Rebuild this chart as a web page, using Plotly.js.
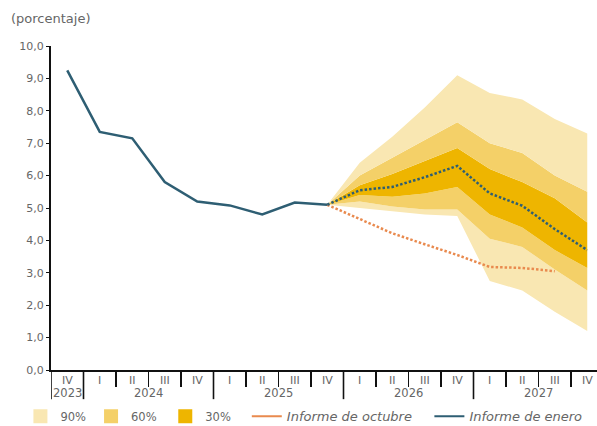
<!DOCTYPE html>
<html><head><meta charset="utf-8">
<script src="https://cdn.plot.ly/plotly-3.0.1.min.js"></script>
<style>body{margin:0;background:#fff}#chart{width:597px;height:426px}</style>
</head><body><div id="chart"></div>
<script>
// Categories (quarters and years)
const years    = ['2023','2024','2024','2024','2024','2025','2025','2025','2025','2026','2026','2026','2026','2027','2027','2027','2027'];
const quarters = ['IV','I','II','III','IV','I','II','III','IV','I','II','III','IV','I','II','III','IV'];
// Observed inflation (2023 IV .. 2025 IV)
const historical = [9.25, 7.35, 7.15, 5.8, 5.2, 5.08, 4.8, 5.17, 5.1];
// Forecasts from 2025 IV .. 2027 IV
const forecastStart = 8;
const enero   = [5.1, 5.55, 5.65, 5.95, 6.3, 5.45, 5.07, 4.35, 3.7];
const octubre = [5.1, 4.65, 4.22, 3.88, 3.55, 3.18, 3.15, 3.05];
const upper90 = [5.1, 6.4, 7.2, 8.1, 9.1, 8.55, 8.35, 7.75, 7.3];
const upper60 = [5.1, 6.0, 6.55, 7.1, 7.65, 7.0, 6.7, 6.0, 5.5];
const upper30 = [5.1, 5.7, 6.05, 6.45, 6.85, 6.2, 5.8, 5.3, 4.55];
const lower30 = [5.1, 5.4, 5.35, 5.45, 5.65, 4.8, 4.4, 3.7, 3.15];
const lower60 = [5.1, 5.2, 5.05, 4.95, 4.95, 4.05, 3.8, 3.1, 2.45];
const lower90 = [5.1, 5.0, 4.9, 4.8, 4.75, 2.75, 2.45, 1.8, 1.2];
const bandNames = ['90%', '60%', '30%'];
const lineNames = ['Informe de octubre', 'Informe de enero'];

const C_LIGHT = '#F9E7B2', C_MED = '#F4D068', C_DARK = '#EEB500';
const C_BLUE = '#2E5E73', C_ORANGE = '#E98A4E';
const TXT = '#666666';
const FONT = '"DejaVu Sans", Verdana, sans-serif';

const idx = quarters.map((q, i) => i);
const fx = n => idx.slice(forecastStart, forecastStart + n);
const hx = idx.slice(0, historical.length);

function band(y, fill, color) {
  return {type:'scatter', mode:'lines', x: fx(y.length), y: y, line:{width:0, color:color},
          fill: fill, fillcolor: color, showlegend:false, hoverinfo:'skip'};
}
const pad = n => '&nbsp;'.repeat(n);
const italic = (s, n) => '<span style="font-size:13px"><i>' + s + '</i>' + pad(n) + '</span>';

const traces = [
  band(lower90, 'none', C_LIGHT),
  band(lower60, 'tonexty', C_LIGHT),
  band(lower30, 'tonexty', C_MED),
  band(upper30, 'tonexty', C_DARK),
  band(upper60, 'tonexty', C_MED),
  band(upper90, 'tonexty', C_LIGHT),
  {type:'scatter', mode:'lines', x: hx, y: historical, line:{color:C_BLUE, width:2.5}, showlegend:false},
  {type:'scatter', mode:'lines', x: fx(octubre.length), y: octubre, line:{color:C_ORANGE, width:2.5, dash:'2.5px,2px'}, showlegend:false},
  {type:'scatter', mode:'lines', x: fx(enero.length), y: enero, line:{color:C_BLUE, width:2.5, dash:'2.5px,2px'}, showlegend:false},
  // legend entries
  {type:'scatter', mode:'markers', xaxis:'x2', yaxis:'y2', x:[null], y:[null], name: bandNames[0], marker:{symbol:'square', size:14, color:C_LIGHT}},
  {type:'scatter', mode:'markers', xaxis:'x2', yaxis:'y2', x:[null], y:[null], name: bandNames[1] + pad(1), marker:{symbol:'square', size:14, color:C_MED}},
  {type:'scatter', mode:'markers', xaxis:'x2', yaxis:'y2', x:[null], y:[null], name: bandNames[2] + pad(3), marker:{symbol:'square', size:14, color:C_DARK}},
  {type:'scatter', mode:'lines', xaxis:'x2', yaxis:'y2', x:[null], y:[null], name: italic(lineNames[0], 3), line:{color:C_ORANGE, width:2}},
  {type:'scatter', mode:'lines', xaxis:'x2', yaxis:'y2', x:[null], y:[null], name: italic(lineNames[1], 0), line:{color:C_BLUE, width:2}}
];

// x-axis decorations built from the category arrays
const boundaries = idx.slice(1).map(i => i - 0.5);
const annotations = [];
const shapes = [];
quarters.forEach((q, i) => {
  annotations.push({text:q, xref:'x', yref:'paper', x:i, y:-0.031, xanchor:'center', yanchor:'middle',
                    showarrow:false, font:{size:11, color:TXT, family:FONT}});
});
const uniqueYears = [...new Set(years)];
uniqueYears.forEach(yr => {
  const ids = idx.filter(i => years[i] === yr);
  const mid = (ids[0] + ids[ids.length - 1]) / 2;
  annotations.push({text:yr, xref:'x', yref:'paper', x:mid, y:-0.072, xanchor:'center', yanchor:'middle',
                    showarrow:false, font:{size:11.5, color:TXT, family:FONT}});
  shapes.push({type:'line', xref:'x', yref:'paper', x0:ids[0] - 0.5, x1:ids[0] - 0.5, y0:0, y1:-0.09,
               line:{color:'#111', width:1.6}});
});
annotations.push({text:'(porcentaje)', xref:'paper', yref:'paper', x:-0.077, y:1.086,
                  xanchor:'left', yanchor:'middle', showarrow:false, font:{size:13, color:TXT, family:FONT}});

const layout = {
  width:597, height:426,
  margin:{l:51, r:0, t:46, b:56, autoexpand:false},
  paper_bgcolor:'#fff', plot_bgcolor:'#fff',
  font:{family:FONT, size:11, color:TXT},
  separators:',.',
  showlegend:true,
  xaxis:{range:[-0.5, 16.3], showgrid:false, zeroline:false, automargin:false,
         showline:true, linecolor:'#111', linewidth:2,
         tickmode:'array', tickvals:boundaries, showticklabels:false,
         ticks:'outside', ticklen:15, tickwidth:1.6, tickcolor:'#111'},
  yaxis:{range:[0,10], dtick:1, tickformat:'.1f', showgrid:false, zeroline:false, automargin:false,
         showline:true, linecolor:'#111', linewidth:2,
         ticks:'outside', ticklen:3, tickcolor:'#111', tickfont:{size:11, color:TXT}},
  xaxis2:{overlaying:'x', visible:false, range:[0,1]},
  yaxis2:{overlaying:'y', visible:false, range:[0,1]},
  legend:{orientation:'h', x:-0.056, y:-0.0977, xanchor:'left', yanchor:'top',
          font:{size:11.5, color:TXT}, bgcolor:'rgba(0,0,0,0)', traceorder:'normal', itemwidth:30},
  annotations: annotations,
  shapes: shapes
};

Plotly.newPlot('chart', traces, layout, {displayModeBar:false, staticPlot:true});
</script>
</body></html>
